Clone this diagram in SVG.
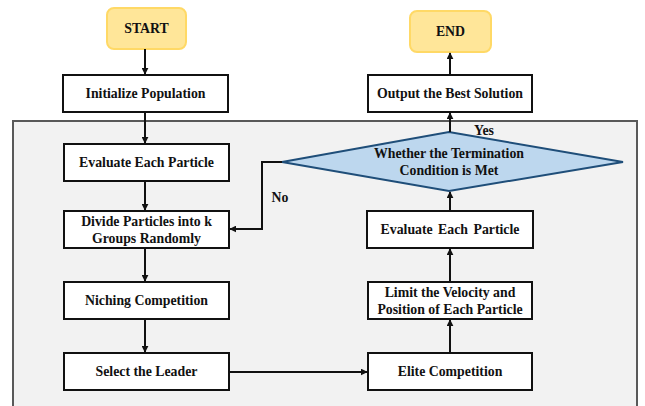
<svg xmlns="http://www.w3.org/2000/svg" width="645" height="406" viewBox="0 0 645 406">
<defs>
<marker id="arr" viewBox="0 0 10 10" refX="9" refY="5" markerWidth="3.5" markerHeight="3.5" orient="auto" markerUnits="strokeWidth">
<path d="M0,0 L10,5 L0,10 z" fill="#111"/>
</marker>
</defs>
<style>
.box{fill:#fff;stroke:#111;stroke-width:2}
.term{fill:#FFE699;stroke:#FFD966;stroke-width:2}
.dia{fill:#BDD7EE;stroke:#1F4E79;stroke-width:2}
text{font-family:'Liberation Serif','Times New Roman',Times,serif;font-weight:bold;font-size:13.8px;fill:#111;text-anchor:middle}
.c{fill:none;stroke:#111;stroke-width:2}
</style>
<rect width="645" height="406" fill="#fff"/>
<rect id="frame" x="13" y="121" width="624" height="300" fill="#F2F2F2" stroke="#595959" stroke-width="2"/>
<g id="start"><rect class="term" x="107" y="8" width="79" height="41" rx="7"/><text x="146.5" y="33">START</text></g>
<g id="end"><rect class="term" x="410" y="11" width="81" height="41" rx="7"/><text x="450.5" y="36">END</text></g>
<g id="init"><rect class="box" x="63" y="75" width="165" height="37"/><text x="145.5" y="98">Initialize Population</text></g>
<g id="output"><rect class="box" x="368" y="75" width="164" height="37"/><text x="450" y="98">Output the Best Solution</text></g>
<g id="eval1"><rect class="box" x="64" y="144" width="165" height="37"/><text x="146.5" y="167">Evaluate Each Particle</text></g>
<g id="divide"><rect class="box" x="64" y="211" width="165" height="37"/><text x="146.5" y="226">Divide Particles into k</text><text x="146.5" y="243">Groups Randomly</text></g>
<g id="niching"><rect class="box" x="64" y="282" width="165" height="37"/><text x="146.5" y="305">Niching Competition</text></g>
<g id="leader"><rect class="box" x="64" y="353" width="165" height="37"/><text x="146.5" y="376">Select the Leader</text></g>
<g id="elite"><rect class="box" x="368" y="353" width="164" height="37"/><text x="450" y="376">Elite Competition</text></g>
<g id="limit"><rect class="box" x="368" y="282" width="164" height="37"/><text x="450" y="297">Limit the Velocity and</text><text x="450" y="314">Position of Each Particle</text></g>
<g id="eval2"><rect class="box" x="367" y="211" width="166" height="37"/><text x="450" y="234" style="word-spacing:2px">Evaluate Each Particle</text></g>
<g id="decision"><polygon class="dia" points="282,162 449,132 623,162 449,191"/><text x="449" y="158">Whether the Termination</text><text x="449" y="175">Condition is Met</text></g>
<g id="connectors">
<line class="c" x1="145" y1="49" x2="145" y2="74" marker-end="url(#arr)"/>
<line class="c" x1="145" y1="112" x2="145" y2="143" marker-end="url(#arr)"/>
<line class="c" x1="145" y1="181" x2="145" y2="210" marker-end="url(#arr)"/>
<line class="c" x1="145" y1="248" x2="145" y2="281" marker-end="url(#arr)"/>
<line class="c" x1="145" y1="319" x2="145" y2="352" marker-end="url(#arr)"/>
<line class="c" x1="229" y1="372" x2="367" y2="372" marker-end="url(#arr)"/>
<line class="c" x1="450" y1="353" x2="450" y2="320" marker-end="url(#arr)"/>
<line class="c" x1="450" y1="282" x2="450" y2="249" marker-end="url(#arr)"/>
<line class="c" x1="450" y1="211" x2="450" y2="192" marker-end="url(#arr)"/>
<line class="c" x1="450" y1="132" x2="450" y2="113" marker-end="url(#arr)"/>
<line class="c" x1="450" y1="75" x2="450" y2="53" marker-end="url(#arr)"/>
<polyline class="c" points="282,162 262,162 262,229 230,229" marker-end="url(#arr)"/>
<text x="484" y="135">Yes</text>
<text x="280" y="202">No</text>
</g>
</svg>
